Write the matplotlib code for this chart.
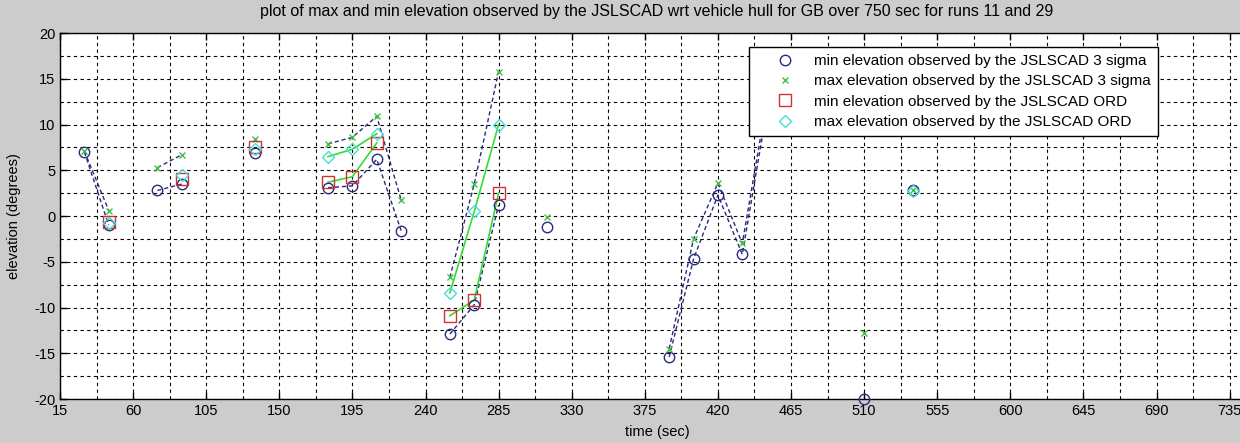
import numpy as np
import matplotlib
matplotlib.use('Agg')
import matplotlib.pyplot as plt
from matplotlib.ticker import MultipleLocator

nan = np.nan

# time slots (sec); nan entries break the connecting lines
time_sec = [30, 45, 60, 75, 90, 105, 135, 150, 180, 195, 210, 225, 240, 255, 270, 285,
            300, 315, 330, 390, 405, 420, 435, 450, 465, 510, 525, 540]
min_3sig = [7.0, -1.0, nan, 2.8, 3.5, nan, 6.9, nan, 3.1, 3.3, 6.2, -1.6, nan, -12.9, -9.7, 1.2,
            nan, -1.2, nan, -15.4, -4.7, 2.3, -4.2, 11.5, nan, -20.0, nan, 2.8]
max_3sig = [7.1, 0.6, nan, 5.3, 6.7, nan, 8.4, nan, 7.9, 8.6, 10.9, 1.75, nan, -6.7, 3.5, 15.8,
            nan, -0.1, nan, -14.5, -2.5, 3.6, -3.0, 12.5, nan, -12.8, nan, 2.9]
min_ord = [nan, -0.6, nan, nan, 4.1, nan, 7.5, nan, 3.7, 4.3, 8.0, nan, nan, -10.9, -9.2, 2.5,
           nan, nan, nan, nan, nan, nan, nan, nan, nan, nan, nan, nan]
max_ord = [nan, -0.8, nan, nan, 4.5, nan, 7.3, nan, 6.5, 7.3, 9.0, nan, nan, -8.4, 0.5, 10.0,
           nan, nan, nan, nan, nan, nan, nan, nan, nan, nan, nan, 2.7]

labels = ["min elevation observed by the JSLSCAD 3 sigma",
          "max elevation observed by the JSLSCAD 3 sigma",
          "min elevation observed by the JSLSCAD ORD",
          "max elevation observed by the JSLSCAD ORD"]

plt.rcParams['font.family'] = ['Liberation Sans', 'DejaVu Sans']
plt.rcParams['axes.unicode_minus'] = False

fig = plt.figure(figsize=(12.4, 4.43), dpi=100, facecolor='#cccccc')
ax = fig.add_axes([60 / 1240, 0.0993, 1194 / 1240, 0.826])
ax.set_facecolor('white')

t = np.array(time_sec, dtype=float)
navy = '#2a2a80'
dash = (0, (3, 2))

# connecting lines
ax.plot(t, min_3sig, color=navy, linestyle=dash, linewidth=1, zorder=3)
ax.plot(t, max_3sig, color=navy, linestyle=dash, linewidth=1, zorder=3)
ax.plot(t, min_ord, color='#33dd33', linestyle='-', linewidth=1.2, zorder=3)
ax.plot(t, max_ord, color='#33dd33', linestyle='-', linewidth=1.2, zorder=3)

# markers
ax.plot(t, min_3sig, 'o', mfc='none', mec=navy, ms=7.5, mew=1, label=labels[0],
        zorder=4, clip_on=False)
ax.plot(t, max_3sig, 'x', color='#44c044', ms=5, mew=1, label=labels[1], zorder=4)
ax.plot(t, min_ord, 's', mfc='none', mec='#cc3333', ms=8, mew=1, label=labels[2], zorder=4)
ax.plot(t, max_ord, 'D', mfc='none', mec='#44dddd', ms=6, mew=1, label=labels[3], zorder=4)

ax.set_xlim(15, 750)
ax.set_ylim(-20, 20)
ax.xaxis.set_major_locator(MultipleLocator(45, offset=15))
ax.xaxis.set_minor_locator(MultipleLocator(22.5, offset=15))
ax.yaxis.set_major_locator(MultipleLocator(5))
ax.yaxis.set_minor_locator(MultipleLocator(2.5))
ax.tick_params(which='major', direction='in', length=5, width=1, top=True, right=True,
               labelsize=10.5, colors='black')
ax.tick_params(which='minor', length=0)
ax.grid(True, which='both', color='black', linestyle=(0, (3, 3)), linewidth=0.8, zorder=1)
ax.set_axisbelow(True)
for sp in ax.spines.values():
    sp.set_linewidth(1)
    sp.set_color('black')

ax.set_title("plot of max and min elevation observed by the JSLSCAD wrt vehicle hull for GB "
             "over 750 sec for runs 11 and 29", fontsize=11.5, pad=12)
ax.set_xlabel("time (sec)", fontsize=10.5, labelpad=5)
ax.set_ylabel("elevation (degrees)", fontsize=10.5, labelpad=9)

leg = ax.legend(loc='upper left', bbox_to_anchor=(749 / 1240, 1 - 47 / 443),
                bbox_transform=fig.transFigure, borderaxespad=0, fontsize=11,
                frameon=True, fancybox=False, framealpha=1, edgecolor='black',
                handlelength=3.8, handletextpad=0.0, labelspacing=0.42, borderpad=0.45)
leg.get_frame().set_linewidth(1)
leg.set_zorder(10)

fig.savefig('out.png', dpi=100, facecolor=fig.get_facecolor())
